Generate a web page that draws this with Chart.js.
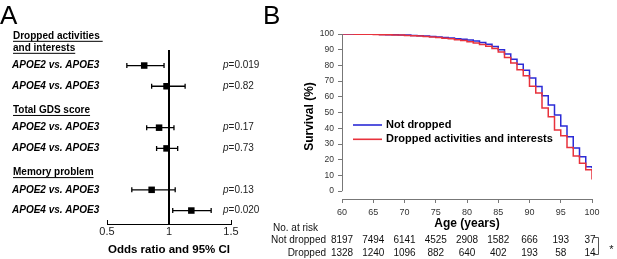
<!DOCTYPE html>
<html>
<head>
<meta charset="utf-8">
<script src="https://cdn.jsdelivr.net/npm/chart.js@4.4.0/dist/chart.umd.min.js"></script>
<style>
  html, body { margin: 0; padding: 0; background: #fff; }
  #wrap { position: relative; width: 617px; height: 259px; overflow: hidden; }
  #forest { position: absolute; left: 0; top: 0; }
  #survival { position: absolute; left: 262px; top: 0; }
</style>
</head>
<body>
<div id="wrap">
  <canvas id="forest" width="262" height="259"></canvas>
  <canvas id="survival" width="355" height="259"></canvas>
</div>
<script>
// ---- panel A: odds ratios ----
var headerLines = [["Dropped activities", "and interests"], ["Total GDS score"], ["Memory problem"]];
var headerIndex = [0, 3, 6];
var rowLabels = ["APOE2 vs. APOE3", "APOE4 vs. APOE3", "APOE2 vs. APOE3", "APOE4 vs. APOE3", "APOE2 vs. APOE3", "APOE4 vs. APOE3"];
var rowIndex = [1, 2, 4, 5, 7, 8];
var forestOR = [0.80, 0.98, 0.92, 0.98, 0.86, 1.18];
var forestLow = [0.66, 0.86, 0.82, 0.90, 0.70, 1.03];
var forestHigh = [0.96, 1.13, 1.04, 1.07, 1.05, 1.34];
var pValues = ["0.019", "0.82", "0.17", "0.73", "0.13", "0.020"];
var orTicks = [0.5, 1, 1.5];

// ---- panel B: survival ----
var ages = [60, 61, 62, 63, 64, 65, 66, 67, 68, 69, 70, 71, 72, 73, 74, 75, 76, 77, 78, 79, 80,
            81, 82, 83, 84, 85, 86, 87, 88, 89, 90, 91, 92, 93, 94, 95, 96, 97, 98, 99, 100];
var notDropped = [100, 100, 99.9, 99.9, 99.8, 99.8, 99.7, 99.6, 99.5, 99.4, 99.3, 99.1, 98.9, 98.7, 98.4, 98.1, 97.8, 97.4, 96.9, 96.6, 96.2,
                  95.5, 94.6, 93.5, 92.0, 90.0, 87.2, 83.9, 80.7, 77.0, 72.0, 66.6, 60.7, 54.8, 48.4, 41.4, 34.6, 27.5, 21.9, 15.5, 14.5];
var droppedVals = [100, 100, 99.9, 99.9, 99.8, 99.7, 99.6, 99.5, 99.4, 99.3, 99.1, 98.9, 98.7, 98.4, 98.1, 97.7, 97.3, 96.9, 96.4, 95.8, 95.1,
                   94.3, 93.3, 92.2, 90.7, 88.6, 85.0, 81.5, 77.3, 73.5, 66.7, 62.4, 52.9, 47.4, 38.9, 35.3, 27.8, 22.4, 17.8, 13.6, 7.4];
var xTicks = [60, 65, 70, 75, 80, 85, 90, 95, 100];
var yTicks = [0, 10, 20, 30, 40, 50, 60, 70, 80, 90, 100];
var riskAges = [60, 65, 70, 75, 80, 85, 90, 95, 100];
var riskNotDropped = [8197, 7494, 6141, 4525, 2908, 1582, 666, 193, 37];
var riskDropped = [1328, 1240, 1096, 882, 640, 402, 193, 58, 14];

Chart.defaults.font.family = "'Liberation Sans', Arial, sans-serif";

var forestPlugin = {
	id: "forestExtras",
	beforeDatasetsDraw: function(chart) {
		var ctx = chart.ctx, x = chart.scales.x, y = chart.scales.y, area = chart.chartArea;
		ctx.save();
		// line of no effect
		var x1 = x.getPixelForValue(1);
		ctx.strokeStyle = "#000";
		ctx.lineWidth = 2;
		ctx.beginPath();
		ctx.moveTo(x1, area.top);
		ctx.lineTo(x1, area.bottom);
		ctx.stroke();
		// confidence intervals
		ctx.lineWidth = 1.3;
		for (var i = 0; i < forestOR.length; i++) {
			var py = y.getPixelForValue(rowIndex[i]);
			var lo = x.getPixelForValue(forestLow[i]);
			var hi = x.getPixelForValue(forestHigh[i]);
			ctx.beginPath();
			ctx.moveTo(lo, py); ctx.lineTo(hi, py);
			ctx.moveTo(lo, py - 2.5); ctx.lineTo(lo, py + 2.5);
			ctx.moveTo(hi, py - 2.5); ctx.lineTo(hi, py + 2.5);
			ctx.stroke();
		}
		ctx.restore();
	},
	afterDraw: function(chart) {
		var ctx = chart.ctx, x = chart.scales.x, y = chart.scales.y, area = chart.chartArea;
		ctx.save();
		ctx.fillStyle = "#000";
		ctx.strokeStyle = "#000";
		ctx.textBaseline = "middle";
		ctx.textAlign = "left";

		// group headers, bold and underlined
		ctx.font = "bold 10px 'Liberation Sans', Arial, sans-serif";
		ctx.lineWidth = 1;
		for (var h = 0; h < headerLines.length; h++) {
			var lines = headerLines[h];
			var base = y.getPixelForValue(headerIndex[h]) + 3;
			for (var l = 0; l < lines.length; l++) {
				var ly = base - (lines.length - 1 - l) * 12;
				ctx.fillText(lines[l], 13, ly);
				var w = ctx.measureText(lines[l]).width + (l < lines.length - 1 ? 3 : 0);
				ctx.beginPath();
				ctx.moveTo(13, ly + 5.5);
				ctx.lineTo(13 + w, ly + 5.5);
				ctx.stroke();
			}
		}

		// comparison labels and p values
		for (var i = 0; i < rowLabels.length; i++) {
			var py = y.getPixelForValue(rowIndex[i]);
			ctx.font = "italic bold 10px 'Liberation Sans', Arial, sans-serif";
			ctx.fillStyle = "#000";
			ctx.fillText(rowLabels[i], 12, py);
			ctx.fillStyle = "#222";
			ctx.font = "italic 10px 'Liberation Sans', Arial, sans-serif";
			ctx.fillText("p", 223, py);
			var pw = ctx.measureText("p").width;
			ctx.font = "10px 'Liberation Sans', Arial, sans-serif";
			ctx.fillText("=" + pValues[i], 223 + pw, py);
		}

		// inward ticks on the odds-ratio axis
		ctx.strokeStyle = "#000";
		ctx.lineWidth = 1;
		x.ticks.forEach(function(t) {
			var px = Math.round(x.getPixelForValue(t.value)) + 0.5;
			ctx.beginPath();
			ctx.moveTo(px, area.bottom);
			ctx.lineTo(px, area.bottom - 4);
			ctx.stroke();
		});

		// panel letter
		ctx.fillStyle = "#000";
		ctx.textBaseline = "alphabetic";
		ctx.font = "26px 'Liberation Sans', Arial, sans-serif";
		ctx.fillText("A", 0, 23.5);
		ctx.restore();
	}
};

new Chart(document.getElementById("forest"), {
	type: "scatter",
	data: {
		datasets: [{
			data: forestOR.map(function(v, i) { return { x: v, y: rowIndex[i] }; }),
			pointStyle: "rect",
			pointRadius: 4.6,
			backgroundColor: "#000",
			borderColor: "#000",
			borderWidth: 0
		}]
	},
	options: {
		responsive: false,
		animation: false,
		events: [],
		layout: { padding: { left: 107, right: 31, top: 50, bottom: 2 } },
		plugins: { legend: { display: false }, tooltip: { enabled: false } },
		scales: {
			x: {
				type: "linear",
				min: 0.5,
				max: 1.5,
				afterBuildTicks: function(s) { s.ticks = orTicks.map(function(v) { return { value: v }; }); },
				afterFit: function(s) { s.height = 33; },
				grid: { display: false, drawTicks: false },
				border: { display: true, color: "#000", width: 1 },
				ticks: { padding: 1, color: "#222", font: { size: 11 }, callback: function(v) { return String(v); } },
				title: { display: true, text: "Odds ratio and 95% CI", color: "#000", font: { size: 11.5, weight: "bold" }, padding: 0 }
			},
			y: { type: "linear", display: false, min: 0.25, max: 8.65, reverse: true }
		}
	},
	plugins: [forestPlugin]
});

var survivalPlugin = {
	id: "survivalExtras",
	afterDraw: function(chart) {
		var ctx = chart.ctx, x = chart.scales.x, y = chart.scales.y, area = chart.chartArea;
		ctx.save();

		// y axis line only spans 0..100
		var ax = Math.round(area.left) + 0.5;
		ctx.strokeStyle = "#777";
		ctx.lineWidth = 1;
		ctx.beginPath();
		ctx.moveTo(ax, y.getPixelForValue(100));
		ctx.lineTo(ax, y.getPixelForValue(0));
		ctx.stroke();

		// legend inside the plot
		var order = [0, 1];
		ctx.textAlign = "left";
		ctx.textBaseline = "middle";
		ctx.font = "bold 11px 'Liberation Sans', Arial, sans-serif";
		order.forEach(function(d, k) {
			var ds = chart.data.datasets[d];
			var ly = area.top + 91 + k * 14.3;
			ctx.strokeStyle = ds.borderColor;
			ctx.lineWidth = 1.6;
			ctx.beginPath();
			ctx.moveTo(area.left + 11, ly);
			ctx.lineTo(area.left + 40, ly);
			ctx.stroke();
			ctx.fillStyle = "#000";
			ctx.fillText(ds.label, area.left + 44, ly);
		});

		// numbers at risk
		ctx.font = "10px 'Liberation Sans', Arial, sans-serif";
		ctx.fillStyle = "#111";
		ctx.textAlign = "left";
		ctx.fillText("No. at risk", 11, 228.5);
		ctx.textAlign = "right";
		ctx.fillText("Not dropped", 64, 240.5);
		ctx.fillText("Dropped", 64, 253.5);
		ctx.textAlign = "center";
		for (var j = 0; j < riskAges.length; j++) {
			var px = x.getPixelForValue(riskAges[j]);
			if (j === riskAges.length - 1) px -= 2;
			ctx.fillText(String(riskNotDropped[j]), px, 240.5);
			ctx.fillText(String(riskDropped[j]), px, 253.5);
		}

		// bracket and significance mark
		ctx.strokeStyle = "#555";
		ctx.lineWidth = 1;
		ctx.beginPath();
		ctx.moveTo(331.5, 237.5);
		ctx.lineTo(336.5, 237.5);
		ctx.lineTo(336.5, 254.5);
		ctx.lineTo(331.5, 254.5);
		ctx.stroke();
		ctx.fillStyle = "#111";
		ctx.font = "11px 'Liberation Sans', Arial, sans-serif";
		ctx.fillText("*", 349.5, 250);

		// panel letter
		ctx.textAlign = "left";
		ctx.textBaseline = "alphabetic";
		ctx.fillStyle = "#000";
		ctx.font = "26px 'Liberation Sans', Arial, sans-serif";
		ctx.fillText("B", 1, 23.5);
		ctx.restore();
	}
};

new Chart(document.getElementById("survival"), {
	type: "line",
	data: {
		datasets: [{
			label: "Not dropped",
			data: ages.map(function(a, i) { return { x: a, y: notDropped[i] }; }),
			borderColor: "#2b2bd6",
			borderWidth: 1.5,
			stepped: true,
			pointRadius: 0,
			fill: false,
			order: 1
		}, {
			label: "Dropped activities and interests",
			data: ages.map(function(a, i) { return { x: a, y: droppedVals[i] }; }),
			borderColor: "#e8323c",
			borderWidth: 1.5,
			stepped: true,
			pointRadius: 0,
			fill: false,
			order: 0
		}]
	},
	options: {
		responsive: false,
		animation: false,
		events: [],
		layout: { padding: { left: 40, right: 25, top: 34, bottom: 28 } },
		plugins: { legend: { display: false }, tooltip: { enabled: false } },
		scales: {
			x: {
				type: "linear",
				min: 60,
				max: 100,
				afterBuildTicks: function(s) { s.ticks = xTicks.map(function(v) { return { value: v }; }); },
				afterFit: function(s) { s.height = 32; },
				grid: { display: true, drawOnChartArea: false, drawTicks: true, tickLength: 4, color: "#777" },
				border: { display: true, color: "#777" },
				ticks: { padding: 4, color: "#333", font: { size: 9 }, maxRotation: 0, autoSkip: false },
				title: { display: true, text: "Age (years)", color: "#000", font: { size: 12, weight: "bold" }, padding: 0 }
			},
			y: {
				type: "linear",
				min: -5,
				max: 100,
				afterBuildTicks: function(s) { s.ticks = yTicks.map(function(v) { return { value: v }; }); },
				afterFit: function(s) { s.width = 40; },
				grid: { display: true, drawOnChartArea: false, drawTicks: true, tickLength: 4, color: "#777" },
				border: { display: false },
				ticks: { padding: 4, color: "#333", font: { size: 8.5 } },
				title: { display: true, text: "Survival (%)", color: "#000", font: { size: 12, weight: "bold" }, padding: 0 }
			}
		}
	},
	plugins: [survivalPlugin]
});
</script>
</body>
</html>
